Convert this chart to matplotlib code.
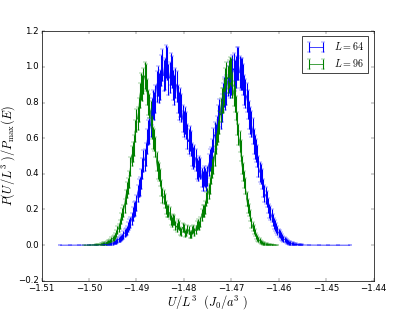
import matplotlib
matplotlib.use("Agg")
import matplotlib.pyplot as plt

# -----------------------------
# Histogram data (L = 64)
# -----------------------------
u_64 = [-1.50600, -1.50400, -1.50200, -1.50000, -1.49850,
        -1.49700, -1.49675, -1.49650, -1.49625, -1.49600, -1.49575, -1.49550, -1.49525,
        -1.49500, -1.49475, -1.49450, -1.49425, -1.49400, -1.49375, -1.49350, -1.49325,
        -1.49300, -1.49275, -1.49250, -1.49225, -1.49200, -1.49175, -1.49150, -1.49125,
        -1.49100, -1.49075, -1.49050, -1.49025, -1.49000, -1.48975, -1.48950, -1.48925,
        -1.48900, -1.48875, -1.48850, -1.48825, -1.48800, -1.48775, -1.48750, -1.48725,
        -1.48700, -1.48675, -1.48650, -1.48625, -1.48600, -1.48575, -1.48550, -1.48525,
        -1.48500, -1.48475, -1.48450, -1.48425, -1.48400, -1.48375, -1.48350, -1.48325,
        -1.48300, -1.48275, -1.48250, -1.48225, -1.48200, -1.48175, -1.48150, -1.48125,
        -1.48100, -1.48075, -1.48050, -1.48025, -1.48000, -1.47975, -1.47950, -1.47925,
        -1.47900, -1.47875, -1.47850, -1.47825, -1.47800, -1.47775, -1.47750, -1.47725,
        -1.47700, -1.47675, -1.47650, -1.47625, -1.47600, -1.47575, -1.47550, -1.47525,
        -1.47500, -1.47475, -1.47450, -1.47425, -1.47400, -1.47375, -1.47350, -1.47325,
        -1.47300, -1.47275, -1.47250, -1.47225, -1.47200, -1.47175, -1.47150, -1.47125,
        -1.47100, -1.47075, -1.47050, -1.47025, -1.47000, -1.46975, -1.46950, -1.46925,
        -1.46900, -1.46875, -1.46850, -1.46825, -1.46800, -1.46775, -1.46750, -1.46725,
        -1.46700, -1.46675, -1.46650, -1.46625, -1.46600, -1.46575, -1.46550, -1.46525,
        -1.46500, -1.46475, -1.46450, -1.46425, -1.46400, -1.46375, -1.46350, -1.46325,
        -1.46300, -1.46275, -1.46250, -1.46225, -1.46200, -1.46175, -1.46150, -1.46125,
        -1.46100, -1.46075, -1.46050, -1.46025, -1.46000, -1.45975, -1.45950, -1.45925,
        -1.45900, -1.45875, -1.45850, -1.45825, -1.45800, -1.45775, -1.45750, -1.45725,
        -1.45700, -1.45675, -1.45650, -1.45625, -1.45600, -1.45575, -1.45550, -1.45525,
        -1.45500,
        -1.45350, -1.45150, -1.44950, -1.44750, -1.44500]
p_64 = [0.0, 0.0, 0.0, 0.0005, 0.001,
        0.002, 0.003, 0.004, 0.004, 0.005, 0.007, 0.009, 0.010,
        0.011, 0.016, 0.019, 0.021, 0.024, 0.031, 0.037, 0.040,
        0.046, 0.058, 0.068, 0.073, 0.082, 0.100, 0.115, 0.128,
        0.145, 0.175, 0.20, 0.205, 0.235, 0.29, 0.32, 0.33,
        0.37, 0.43, 0.47, 0.48, 0.51, 0.58, 0.63, 0.64,
        0.68, 0.75, 0.79, 0.78, 0.82, 0.89, 0.92, 0.88,
        0.90, 0.98, 1.01, 0.95, 0.96, 1.03, 1.02, 0.93,
        0.94, 0.99, 0.97, 0.90, 0.87, 0.91, 0.89, 0.82,
        0.78, 0.80, 0.77, 0.71, 0.68, 0.70, 0.67, 0.61,
        0.58, 0.60, 0.57, 0.51, 0.49, 0.50, 0.48, 0.43,
        0.42, 0.44, 0.43, 0.38, 0.36, 0.39, 0.38, 0.36,
        0.39, 0.45, 0.48, 0.49, 0.53, 0.59, 0.62, 0.61,
        0.65, 0.71, 0.74, 0.73, 0.77, 0.83, 0.86, 0.84,
        0.87, 0.92, 0.94, 0.91, 0.93, 0.98, 0.99, 0.95,
        0.97, 1.02, 1.02, 0.97, 0.96, 0.96, 0.93, 0.87,
        0.85, 0.83, 0.79, 0.73, 0.70, 0.68, 0.64, 0.58,
        0.55, 0.53, 0.50, 0.44, 0.41, 0.40, 0.37, 0.32,
        0.29, 0.28, 0.26, 0.22, 0.19, 0.18, 0.165, 0.14,
        0.12, 0.11, 0.098, 0.082, 0.068, 0.061, 0.052, 0.043,
        0.035, 0.031, 0.026, 0.020, 0.016, 0.014, 0.012, 0.009,
        0.007, 0.005, 0.004, 0.004, 0.003, 0.002, 0.002, 0.001,
        0.001,
        0.0005, 0.0, 0.0, 0.0, 0.0]
err_64 = [0.0, 0.0, 0.0, 0.001, 0.002,
          0.004, 0.005, 0.006, 0.006, 0.006, 0.008, 0.009, 0.009,
          0.009, 0.011, 0.012, 0.013, 0.014, 0.016, 0.017, 0.018,
          0.019, 0.022, 0.023, 0.024, 0.026, 0.028, 0.031, 0.032,
          0.034, 0.038, 0.040, 0.041, 0.044, 0.048, 0.051, 0.052,
          0.055, 0.059, 0.062, 0.062, 0.064, 0.069, 0.071, 0.072,
          0.074, 0.078, 0.080, 0.079, 0.081, 0.085, 0.086, 0.084,
          0.085, 0.089, 0.090, 0.088, 0.088, 0.091, 0.091, 0.087,
          0.087, 0.090, 0.089, 0.085, 0.084, 0.086, 0.085, 0.081,
          0.079, 0.080, 0.079, 0.076, 0.074, 0.075, 0.074, 0.070,
          0.069, 0.070, 0.068, 0.064, 0.063, 0.064, 0.062, 0.059,
          0.058, 0.060, 0.059, 0.055, 0.054, 0.056, 0.055, 0.054,
          0.056, 0.060, 0.062, 0.063, 0.066, 0.069, 0.071, 0.070,
          0.073, 0.076, 0.077, 0.077, 0.079, 0.082, 0.083, 0.082,
          0.084, 0.086, 0.087, 0.086, 0.087, 0.089, 0.090, 0.088,
          0.089, 0.091, 0.091, 0.089, 0.088, 0.088, 0.087, 0.084,
          0.083, 0.082, 0.080, 0.077, 0.075, 0.074, 0.072, 0.069,
          0.067, 0.066, 0.064, 0.060, 0.058, 0.057, 0.055, 0.051,
          0.048, 0.048, 0.046, 0.042, 0.039, 0.038, 0.037, 0.034,
          0.031, 0.030, 0.028, 0.026, 0.023, 0.022, 0.021, 0.019,
          0.017, 0.016, 0.015, 0.013, 0.011, 0.011, 0.010, 0.009,
          0.008, 0.006, 0.006, 0.006, 0.005, 0.004, 0.004, 0.003,
          0.003,
          0.002, 0.0, 0.0, 0.0, 0.0]

# -----------------------------
# Histogram data (L = 96)
# -----------------------------
u_96 = [-1.50100, -1.50000, -1.49950,
        -1.49900, -1.49875, -1.49850, -1.49825, -1.49800, -1.49775, -1.49750, -1.49725,
        -1.49700, -1.49675, -1.49650, -1.49625, -1.49600, -1.49575, -1.49550, -1.49525,
        -1.49500, -1.49475, -1.49450, -1.49425, -1.49400, -1.49375, -1.49350, -1.49325,
        -1.49300, -1.49275, -1.49250, -1.49225, -1.49200, -1.49175, -1.49150, -1.49125,
        -1.49100, -1.49075, -1.49050, -1.49025, -1.49000, -1.48975, -1.48950, -1.48925,
        -1.48900, -1.48875, -1.48850, -1.48825, -1.48800, -1.48775, -1.48750, -1.48725,
        -1.48700, -1.48675, -1.48650, -1.48625, -1.48600, -1.48575, -1.48550, -1.48525,
        -1.48500, -1.48475, -1.48450, -1.48425, -1.48400, -1.48375, -1.48350, -1.48325,
        -1.48300, -1.48275, -1.48250, -1.48225, -1.48200, -1.48175, -1.48150, -1.48125,
        -1.48100, -1.48075, -1.48050, -1.48025, -1.48000, -1.47975, -1.47950, -1.47925,
        -1.47900, -1.47875, -1.47850, -1.47825, -1.47800, -1.47775, -1.47750, -1.47725,
        -1.47700, -1.47675, -1.47650, -1.47625, -1.47600, -1.47575, -1.47550, -1.47525,
        -1.47500, -1.47475, -1.47450, -1.47425, -1.47400, -1.47375, -1.47350, -1.47325,
        -1.47300, -1.47275, -1.47250, -1.47225, -1.47200, -1.47175, -1.47150, -1.47125,
        -1.47100, -1.47075, -1.47050, -1.47025, -1.47000, -1.46975, -1.46950, -1.46925,
        -1.46900, -1.46875, -1.46850, -1.46825, -1.46800, -1.46775, -1.46750, -1.46725,
        -1.46700, -1.46675, -1.46650, -1.46625, -1.46600, -1.46575, -1.46550, -1.46525,
        -1.46500, -1.46475, -1.46450, -1.46425, -1.46400, -1.46375, -1.46350, -1.46325,
        -1.46300, -1.46275, -1.46250, -1.46225, -1.46200, -1.46175, -1.46150, -1.46125,
        -1.46100,
        -1.46030]
p_96 = [0.0, 0.0, 0.0005,
        0.001, 0.001, 0.002, 0.002, 0.003, 0.004, 0.005, 0.006,
        0.008, 0.009, 0.010, 0.014, 0.017, 0.019, 0.023, 0.030,
        0.037, 0.042, 0.050, 0.066, 0.083, 0.095, 0.115, 0.15,
        0.175, 0.19, 0.22, 0.27, 0.31, 0.33, 0.37, 0.44,
        0.50, 0.52, 0.56, 0.64, 0.70, 0.71, 0.76, 0.84,
        0.89, 0.88, 0.92, 0.95, 0.94, 0.86, 0.80, 0.78,
        0.74, 0.66, 0.60, 0.59, 0.55, 0.47, 0.42, 0.41,
        0.38, 0.32, 0.28, 0.27, 0.25, 0.21, 0.19, 0.19,
        0.18, 0.14, 0.13, 0.145, 0.14, 0.11, 0.10, 0.12,
        0.11, 0.08, 0.075, 0.10, 0.095, 0.065, 0.07, 0.09,
        0.085, 0.06, 0.06, 0.085, 0.09, 0.075, 0.085, 0.11,
        0.12, 0.11, 0.13, 0.17, 0.19, 0.19, 0.21, 0.26,
        0.28, 0.30, 0.33, 0.39, 0.43, 0.45, 0.50, 0.57,
        0.62, 0.64, 0.69, 0.76, 0.81, 0.81, 0.86, 0.92,
        0.95, 0.93, 0.96, 0.98, 0.97, 0.90, 0.85, 0.82,
        0.77, 0.68, 0.62, 0.58, 0.53, 0.45, 0.41, 0.37,
        0.33, 0.26, 0.22, 0.195, 0.165, 0.125, 0.105, 0.088,
        0.072, 0.052, 0.040, 0.033, 0.026, 0.017, 0.013, 0.011,
        0.009, 0.006, 0.005, 0.004, 0.003, 0.002, 0.002, 0.001,
        0.001,
        0.0]
err_96 = [0.0, 0.0, 0.001,
          0.002, 0.002, 0.003, 0.003, 0.004, 0.005, 0.006, 0.006,
          0.007, 0.007, 0.008, 0.009, 0.010, 0.011, 0.012, 0.014,
          0.015, 0.016, 0.017, 0.020, 0.022, 0.024, 0.026, 0.030,
          0.033, 0.034, 0.037, 0.041, 0.043, 0.045, 0.047, 0.052,
          0.055, 0.056, 0.058, 0.062, 0.065, 0.066, 0.068, 0.071,
          0.074, 0.073, 0.075, 0.076, 0.076, 0.072, 0.070, 0.069,
          0.067, 0.063, 0.060, 0.060, 0.058, 0.053, 0.051, 0.050,
          0.048, 0.044, 0.041, 0.041, 0.039, 0.036, 0.034, 0.034,
          0.033, 0.029, 0.028, 0.030, 0.029, 0.026, 0.025, 0.027,
          0.026, 0.022, 0.021, 0.025, 0.024, 0.020, 0.021, 0.023,
          0.023, 0.019, 0.019, 0.023, 0.023, 0.021, 0.023, 0.026,
          0.027, 0.026, 0.028, 0.032, 0.034, 0.034, 0.036, 0.040,
          0.041, 0.043, 0.045, 0.049, 0.051, 0.052, 0.055, 0.059,
          0.061, 0.062, 0.065, 0.068, 0.070, 0.070, 0.072, 0.075,
          0.076, 0.075, 0.076, 0.077, 0.077, 0.074, 0.072, 0.071,
          0.068, 0.064, 0.061, 0.059, 0.057, 0.052, 0.050, 0.047,
          0.045, 0.040, 0.037, 0.034, 0.032, 0.028, 0.025, 0.023,
          0.021, 0.018, 0.016, 0.014, 0.013, 0.010, 0.009, 0.008,
          0.007, 0.006, 0.006, 0.005, 0.004, 0.003, 0.003, 0.002,
          0.002,
          0.0]

labels = [r"$L=64$", r"$L=96$"]

# -----------------------------
# Plot
# -----------------------------
plt.style.use("classic")
plt.rcParams["mathtext.fontset"] = "cm"

fig = plt.figure(figsize=(415 / 52, 312 / 52), dpi=52)
fig.subplots_adjust(left=0.1, right=0.9, bottom=0.1, top=0.9)
ax = fig.add_subplot(111)

ax.errorbar(u_64, p_64, yerr=err_64, color="b", capsize=3, elinewidth=1.5,
            label=labels[0])
ax.errorbar(u_96, p_96, yerr=err_96, color="g", capsize=3, elinewidth=1.5,
            label=labels[1])

ax.set_xlim(-1.51, -1.44)
ax.set_ylim(-0.2, 1.2)
ax.set_xlabel(r"$U/L^3\ \ (J_0/a^3\ )$", fontsize=17, labelpad=1)
ax.set_ylabel(r"$P(U/L^3\ )/P_{\max}(E)$", fontsize=17, labelpad=1)
ax.legend(loc="upper right", fontsize=14)

fig.savefig("out.png", dpi=52)
plt.close(fig)
print("Saved chart: out.png")
